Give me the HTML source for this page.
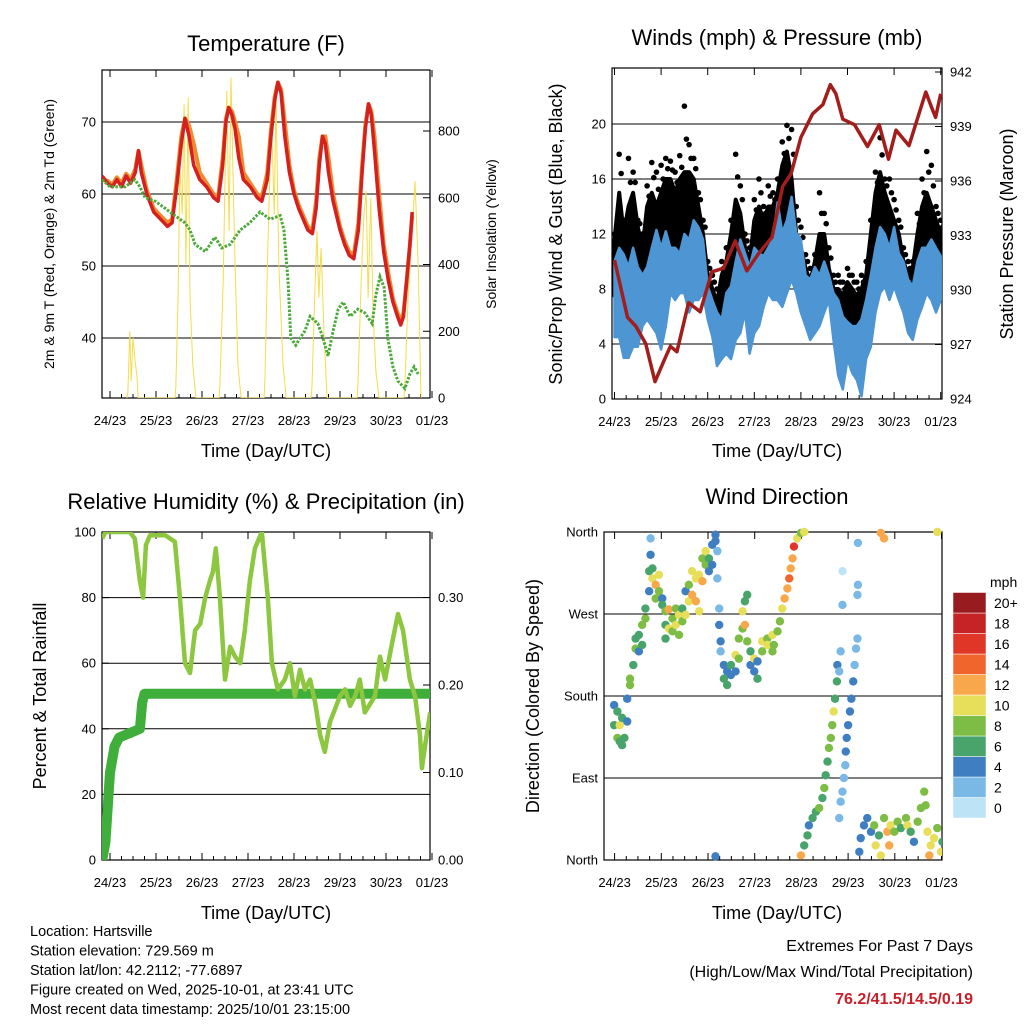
<!DOCTYPE html>
<html><head><meta charset="utf-8">
<style>
body{margin:0;background:#fff;}
svg{display:block;font-family:"Liberation Sans",Arial,sans-serif;}
</style></head>
<body>
<svg id="chart" width="1024" height="1024" viewBox="0 0 1024 1024">
<rect x="0" y="0" width="1024" height="1024" fill="#fff"/>
</svg>
<script>
// ---------- DATA ----------
const dayLabels = ["24/23","25/23","26/23","27/23","28/23","29/23","30/23","01/23"];
// Temperature panel
const tempTimes = [-0.17,-0.05,0.05,0.15,0.25,0.35,0.45,0.55,0.62,0.68,0.8,0.95,1.1,1.25,1.35,1.45,1.55,1.63,1.72,1.82,1.95,2.1,2.25,2.35,2.45,2.52,2.58,2.65,2.72,2.8,2.9,3.05,3.2,3.3,3.42,3.5,3.58,3.65,3.72,3.8,3.9,4.0,4.1,4.2,4.3,4.4,4.48,4.55,4.62,4.68,4.75,4.85,5.0,5.1,5.2,5.3,5.4,5.48,5.55,5.62,5.68,5.75,5.85,5.95,6.05,6.15,6.25,6.32,6.38,6.45,6.52,6.57];
const temp2m = [62.5,61.5,61,62,61,62.5,61.5,63,66,63,60,57.5,56.5,55.5,56,61,67,70.5,68,64,62,61,59.5,59,64,70,72,71,69,65,62,61,59.5,59,62,68,73,75.5,74,68,63,60,58,56.5,55,54.5,58,64,68,67,63,59,55,53,51.5,51,55,63,69,72.5,71,66,58,52,48,45,43,41.8,43,48,53,57.5];
const temp9m = [62,61.8,61.3,62.3,61.5,62.8,62,63.5,66,64,60.5,58,57,56,56.5,62,68,70.5,69.5,67,63,61.5,60,59.5,65,70.5,72,71.5,70,68,63,61.5,60,59.5,63,69,73.5,75.5,74.5,70,64,60.5,58.5,57,55.5,55,59,65,68,68,65,60,55.5,53.5,52,51.5,56,64,69.5,72.5,71.5,68,60,53,49,45.5,43.5,42.5,43.5,48,53,57];
const dewTimes = [-0.17,0,0.33,0.54,0.65,0.76,0.98,1.2,1.41,1.63,1.74,1.85,2.07,2.28,2.43,2.61,2.83,3.04,3.26,3.48,3.7,3.78,3.87,3.93,4.04,4.13,4.24,4.35,4.52,4.63,4.74,4.85,4.96,5.07,5.22,5.39,5.54,5.7,5.78,5.87,5.96,6.04,6.15,6.26,6.41,6.52,6.61,6.7];
const dewValues = [62,61,61,62,61,59.5,59,58,57,56,55,53,52,54,52.5,53,55,56,57.5,56.5,57,55,48,40,39,40,41,43,42,40,37.5,41,44,45,43,44,43.5,42,46,48.5,47,40,36,34,33,35,36,35];
const solarTimes = [0.37,0.39,0.43,0.46,0.50,0.54,0.59,0.61,1.41,1.43,1.48,1.52,1.57,1.61,1.65,1.70,1.74,1.80,1.87,2.37,2.39,2.46,2.50,2.54,2.59,2.63,2.67,2.72,2.78,2.85,3.35,3.37,3.43,3.48,3.52,3.57,3.61,3.67,3.76,3.83,4.37,4.39,4.46,4.50,4.54,4.59,4.65,4.72,5.37,5.39,5.46,5.52,5.57,5.61,5.67,5.72,5.78,5.85,6.39,6.41,6.48,6.57,6.63,6.70,6.76];
const solarValues = [0,20,200,50,180,120,60,0,0,30,300,700,550,880,400,900,300,100,0,0,40,350,650,920,500,960,700,400,100,0,0,60,450,700,800,550,900,400,100,0,0,30,350,500,300,450,200,0,0,40,350,550,620,300,600,250,80,0,0,40,300,500,650,400,0];
// Winds panel (0.1-day samples)
const windTimes = [0,0.1,0.2,0.3,0.4,0.5,0.6,0.7,0.8,0.9,1,1.1,1.2,1.3,1.4,1.5,1.6,1.7,1.8,1.9,2,2.1,2.2,2.3,2.4,2.5,2.6,2.7,2.8,2.9,3,3.1,3.2,3.3,3.4,3.5,3.6,3.7,3.8,3.9,4,4.1,4.2,4.3,4.4,4.5,4.6,4.7,4.8,4.9,5,5.1,5.2,5.3,5.4,5.5,5.6,5.7,5.8,5.9,6,6.1,6.2,6.3,6.4,6.5,6.6,6.7,6.8,6.9,7];
const windHigh = [10,11,10.5,9.6,11,9.6,9,9.6,11,12.3,11,12.2,11,11,10.6,12,11.6,13,12.5,11.6,8.2,7.2,6.3,5.8,7.7,8.2,10,11.6,10.6,9.6,11,10.6,10.4,11,11.6,14.3,12.1,13,14.7,12.1,11.6,9,8.7,9.6,9,10,9,7.7,7.2,6,5.6,5.3,5.3,5.8,7.2,9,11,12.5,12,11,12.5,10.6,10,8.7,8.2,10,11,11,11.6,11,10.4];
const windLow = [4.5,4.5,3,3,3.8,3.8,5.3,5.8,5.3,4.8,3.6,5.3,7.7,7.2,7.7,7.7,6.3,7.2,7.2,7.7,5.8,4.5,2.4,2.9,3.3,2.9,4.3,4.8,6.3,3.3,4.8,5.3,6.7,7.7,7.2,7.2,6.7,7.7,8.7,7.7,6.3,5.3,4.3,4.8,5.3,6.3,7.2,4.3,1.7,0.7,2.9,1.9,1.4,0.2,2.9,3.8,6.3,7.7,8.2,7.2,8.2,7.2,6.3,4.8,4.3,5.8,6.7,7.7,7.2,6.3,7.2];
const gustTop = [11.6,15,12,14,15,12.5,11,14,15,14,15,16,16,15,16,16.5,16.5,16,14,12,9,8,7,9,10,12,14.5,13.5,11,10,13,14,13,14,14,15,17,18,16,12,11,9.5,8.5,10,12,12,9.5,8,8,7.5,8.5,8,7.5,8,9,12,15,16.5,15,14,13,12,10,9,9.5,12,14,15,14,13,12];
const gustMax = [12,17.8,13,17.5,16.5,13,12,15.5,17.2,16.5,17,17.5,17.3,16.5,17.7,21.3,18.5,17.5,15,13,10,9,8,10,11,13,17.8,15.5,12,11,14.5,16,14,15.5,15,16,18.7,19.9,19.6,14,12.5,10.5,9.5,10.5,15,13.5,11,9,9,8.5,9.5,9,8.5,9,10,13,16.5,19,16,16,14.5,13,11,10,10,13.5,16,18,17,14,13];
const presTimes = [0,0.28,0.46,0.67,0.87,1.06,1.2,1.34,1.59,1.84,2.09,2.34,2.59,2.84,3.09,3.38,3.61,3.79,4.0,4.25,4.47,4.63,4.75,4.9,5.15,5.43,5.68,5.88,6.04,6.32,6.68,6.82,6.89,7.0];
const presValues = [931.65,928.5,928,927.05,924.95,926.1,926.9,926.6,929.3,928.8,931.0,931.2,932.7,931.05,932.0,932.9,935.7,936.4,938.4,939.7,940.2,941.3,940.8,939.4,939.1,937.9,939.1,937.2,938.8,937.95,940.9,939.95,939.5,940.8];
// RH panel
const rhTimes = [-0.17,-0.1,0.43,0.54,0.65,0.72,0.78,0.87,1.2,1.41,1.52,1.63,1.74,1.85,1.96,2.07,2.17,2.24,2.3,2.39,2.5,2.61,2.72,2.83,2.93,3.04,3.15,3.3,3.43,3.52,3.65,3.8,3.91,4.02,4.13,4.24,4.35,4.46,4.57,4.67,4.78,5.0,5.11,5.22,5.33,5.43,5.54,5.76,5.87,5.98,6.13,6.26,6.37,6.52,6.63,6.74,6.78,6.85,6.96];
const rhValues = [98,100,100,98,85,80,96,99,99,97,80,60,57,70,72,80,85,88,95,80,55,65,62,60,70,85,95,100,80,60,52,55,60,50,58,52,55,48,38,33,42,50,52,47,50,55,45,50,62,55,66,75,70,55,50,38,28,35,45];
const precipTimes = [-0.17,-0.1,-0.05,0.0,0.1,0.2,0.43,0.65,0.7,0.75,6.96];
const precipValues = [0,0.02,0.06,0.1,0.13,0.14,0.145,0.15,0.18,0.19,0.19];
// Wind direction panel
const dirTimes = [-0.01,-0.01,0.06,0.06,0.11,0.11,0.16,0.16,0.21,0.27,0.27,0.33,0.33,0.4,0.45,0.45,0.52,0.52,0.59,0.59,0.66,0.66,0.74,0.74,0.77,0.77,0.81,0.81,0.88,0.88,0.95,0.95,1.02,1.02,1.09,1.09,1.09,1.16,1.16,1.24,1.24,1.31,1.31,1.38,1.38,1.45,1.45,1.52,1.52,1.59,1.59,1.66,1.66,1.74,1.74,1.81,1.81,1.88,1.88,1.95,1.95,2.02,2.02,2.09,2.09,2.16,2.16,2.2,2.2,2.24,2.24,2.27,2.27,2.34,2.34,2.41,2.41,2.49,2.49,2.59,2.59,2.66,2.66,2.74,2.74,2.79,2.79,2.84,2.84,2.91,2.91,2.99,2.99,3.06,3.06,3.16,3.16,3.27,3.27,3.38,3.38,2.16,
3.41,3.49,3.54,3.59,3.64,3.7,3.74,3.77,3.81,3.84,3.91,3.99,4.06,
3.99,4.06,4.13,4.16,4.24,4.31,4.38,4.45,4.49,4.52,4.56,4.59,4.63,4.66,4.69,4.72,4.76,4.77,4.81,4.84,4.88,4.88,
4.81,4.84,4.88,4.91,4.94,4.95,4.97,5.0,5.04,5.07,5.11,5.14,5.17,5.2,5.2,5.21,5.21,
5.24,5.27,5.34,5.41,5.49,5.56,5.59,5.66,5.7,5.77,5.84,5.88,5.91,5.99,6.06,6.13,6.24,6.27,6.34,6.41,6.49,6.56,6.63,6.66,6.7,6.74,6.77,6.84,6.91,6.99,7.02,
5.7,5.77,6.91];
const dirValues = [170,148,163,134,148,130,156,126,134,152,177,192,199,214,232,243,229,247,236,258,265,276,295,317,335,353,309,320,302,287,295,313,287,280,273,258,243,275,254,265,251,258,276,247,269,276,262,269,295,284,302,291,317,284,309,273,313,306,331,339,324,331,317,324,346,357,350,339,309,276,258,240,229,214,199,192,207,203,214,225,207,221,243,273,254,258,284,291,240,229,214,207,221,199,218,229,240,243,236,247,229,4,
236,251,262,276,287,298,309,320,331,344,353,359,360,
5,16,27,38,46,53,57,68,79,93,108,123,134,148,163,177,196,214,207,229,317,280,
46,64,75,90,104,119,134,148,163,177,196,214,232,243,291,302,348,
9,24,38,46,31,38,16,27,5,46,31,16,38,31,42,35,46,38,31,20,42,57,75,60,31,5,16,24,35,9,20,
359,353,360];
const dirSpeeds = [4,6,6,8,10,6,6,6,6,4,4,8,8,6,8,6,4,6,6,8,8,6,4,6,4,2,10,6,12,8,8,10,4,6,8,6,6,12,10,8,8,10,8,8,10,6,8,10,4,10,8,12,10,12,10,10,10,12,8,10,8,6,4,4,4,4,4,2,2,2,4,4,2,4,6,6,4,4,6,10,4,8,8,10,8,12,6,6,8,6,4,4,10,6,4,8,10,8,10,10,8,4,
8,8,8,10,12,12,14,12,12,16,10,8,10,
12,6,6,4,6,6,8,6,8,6,6,8,8,8,10,6,6,4,2,2,1,2,
2,2,2,2,2,4,4,4,4,4,4,2,2,2,2,2,2,
4,4,4,4,4,8,10,6,10,8,12,12,10,8,8,6,8,10,6,4,8,8,8,8,10,12,10,10,8,10,6,
12,12,10];
const speedLabels = ["0","2","4","6","8","10","12","14","16","18","20+"];
const speedColors = ["#bde3f7","#7ab8e6","#3f7fc1","#48a46a","#7dbd45","#e7de5a","#f8a84b","#f0652b","#df3628","#c62327","#981c1f"];

// ---------- HELPERS ----------
const NS="http://www.w3.org/2000/svg";
const svg=document.getElementById('chart');
function mk(tag,attrs,parent){const e=document.createElementNS(NS,tag);for(const k in attrs)e.setAttribute(k,attrs[k]);(parent||svg).appendChild(e);return e;}
function txt(s,x,y,size,anchor,rot,extra){const a={x:x,y:y,'font-size':size,'text-anchor':anchor||'middle',fill:'#000'};if(rot)a.transform='rotate('+rot+' '+x+' '+y+')';if(extra)for(const k in extra)a[k]=extra[k];const e=mk('text',a);e.textContent=s;return e;}
function lin(d0,d1,r0,r1){return v=>r0+(v-d0)/(d1-d0)*(r1-r0);}
function pathD(xs,ys,fx,fy){return xs.map((t,i)=>(i?'L':'M')+fx(t).toFixed(1)+' '+fy(ys[i]).toFixed(1)).join(' ');}
function bandPts(xs,hi,lo,fx,fy){const a=xs.map((t,i)=>fx(t).toFixed(1)+','+fy(hi[i]).toFixed(1));for(let i=xs.length-1;i>=0;i--)a.push(fx(xs[i]).toFixed(1)+','+fy(lo[i]).toFixed(1));return a.join(' ');}

function frame(x0,y0,x1,y1,yTicks,fyL,yLabFmt,rTicks,fyR,rFmt,fx,nameP,grid){
  if(grid){yTicks.forEach(v=>{const g=mk('line',{x1:x0,x2:x1,y1:fyL(v),y2:fyL(v),stroke:'#000','stroke-width':1});
    });}
  const r=mk('rect',{x:x0,y:y0,width:x1-x0,height:y1-y0,fill:'none',stroke:'#000','stroke-width':1.2});
  
  yTicks.forEach(v=>{const y=fyL(v);mk('line',{x1:x0,x2:x0+7,y1:y,y2:y,stroke:'#000'});
    const t=txt(yLabFmt(v),x0-6,y+4.5,13,'end');});
  if(rTicks)rTicks.forEach(v=>{const y=fyR(v);mk('line',{x1:x1-7,x2:x1,y1:y,y2:y,stroke:'#000'});
    const t=txt(rFmt(v),x1+8,y+4.5,13,'start');});
  dayLabels.forEach((l,i)=>{const x=fx(i);mk('line',{x1:x,x2:x,y1:y1,y2:y1-7,stroke:'#000'});mk('line',{x1:x,x2:x,y1:y0,y2:y0+7,stroke:'#000'});
    for(let k=1;k<4;k++){const xm=fx(i+k/4);if(xm<x1)mk('line',{x1:xm,x2:xm,y1:y1,y2:y1-4,stroke:'#000'});}
    const t=txt(l,x,y1+27,13,'middle');});
}

// ---------- PANEL 1: Temperature ----------
{
const x0=102,x1=430,y0=70,y1=398;
const fx=lin(0,1,110,156);const fy=lin(40,70,338,122);const fs=lin(0,800,398,131);
const cp=mk('clipPath',{id:'c1'});mk('rect',{x:x0,y:y0,width:x1-x0,height:y1-y0},cp);
frame(x0,y0,x1,y1,[40,50,60,70],fy,v=>v,[0,200,400,600,800],fs,v=>v,fx,'temperature',true);
const g=mk('g',{'clip-path':'url(#c1)'});
const s=mk('path',{d:pathD(solarTimes,solarValues,fx,fs),fill:'none',stroke:'#f5dc4a','stroke-width':1},g);

const o=mk('path',{d:pathD(tempTimes,temp9m,fx,fy),fill:'none',stroke:'#f08a2c','stroke-width':4,'stroke-linejoin':'round'},g);

const r=mk('path',{d:pathD(tempTimes,temp2m,fx,fy),fill:'none',stroke:'#d42020','stroke-width':3.5,'stroke-linejoin':'round'},g);

const d=mk('path',{d:pathD(dewTimes,dewValues,fx,fy),fill:'none',stroke:'#4caa3a','stroke-width':3,'stroke-dasharray':'2.5 1.5'},g);

let t=txt('Temperature (F)',266,51,22);
t=txt('Time (Day/UTC)',266,457,18);
t=txt('2m & 9m T (Red, Orange) & 2m Td (Green)',54,234,14,'middle',-90);
t=txt('Solar Insolation (Yellow)',496,234,14,'middle',-90);
}

// ---------- PANEL 2: Winds ----------
{
const x0=612,x1=942,y0=68,y1=399;
const fx=lin(0,1,614.5,661.1);const fy=lin(0,20,399,124);const fp=lin(924,942,399,72);
const cp=mk('clipPath',{id:'c2'});mk('rect',{x:x0,y:y0,width:x1-x0,height:y1-y0},cp);
frame(x0,y0,x1,y1,[0,4,8,12,16,20],fy,v=>v,[924,927,930,933,936,939,942],fp,v=>v,fx,'winds',true);
const g=mk('g',{'clip-path':'url(#c2)'});
const lowBlack=windHigh.map((v,i)=>Math.min(v,windLow[i]+3));
const gb=mk('polygon',{points:bandPts(windTimes,gustTop,lowBlack,fx,fy),fill:'#000',stroke:'#000','stroke-width':4,'stroke-linejoin':'round'},g);

windTimes.forEach((t,i)=>{
  const c=mk('circle',{cx:fx(t),cy:fy(gustMax[i]),r:2.8,fill:'#000'},g);
  
  const c2=mk('circle',{cx:fx(t)+2,cy:fy((gustMax[i]+gustTop[i])/2),r:2.8,fill:'#000'},g);
  });
const wb=mk('polygon',{points:bandPts(windTimes,windHigh,windLow,fx,fy),fill:'#4d95d3',stroke:'#4d95d3','stroke-width':2.5,'stroke-linejoin':'round'},g);

const p=mk('path',{d:pathD(presTimes,presValues,fx,fp),fill:'none',stroke:'#a31d1d','stroke-width':3.5,'stroke-linejoin':'round'},g);

let t=txt('Winds (mph) & Pressure (mb)',777,45,22);
t=txt('Time (Day/UTC)',777,457,18);
t=txt('Sonic/Prop Wind & Gust (Blue, Black)',562,234,18,'middle',-90);
t=txt('Station Pressure (Maroon)',1013,234,18,'middle',-90);
}

// ---------- PANEL 3: RH & Precip ----------
{
const x0=102,x1=430,y0=532,y1=860;
const fx=lin(0,1,110,156);const fy=lin(0,100,860,532);const fr=lin(0,0.1,860,772.5);
const cp=mk('clipPath',{id:'c3'});mk('rect',{x:x0,y:y0,width:x1-x0,height:y1-y0},cp);
frame(x0,y0,x1,y1,[0,20,40,60,80,100],fy,v=>v,[0,0.1,0.2,0.3],fr,v=>v.toFixed(2),fx,'humidity',true);
const g=mk('g',{'clip-path':'url(#c3)'});
const pr=mk('path',{d:pathD(precipTimes,precipValues,fx,fr),fill:'none',stroke:'#3fae3a','stroke-width':10,'stroke-linejoin':'round','stroke-linecap':'round'},g);

const rh=mk('path',{d:pathD(rhTimes,rhValues,fx,fy),fill:'none',stroke:'#8dc63f','stroke-width':4.5,'stroke-linejoin':'round'},g);

let t=txt('Relative Humidity (%) & Precipitation (in)',266,509,22);
t=txt('Time (Day/UTC)',266,919,18);
t=txt('Percent & Total Rainfall',46,696,18,'middle',-90);
}

// ---------- PANEL 4: Wind Direction ----------
{
const x0=604,x1=942,y0=532,y1=860;
const fx=lin(0,1,614.6,661.3);const fy=lin(0,360,860,532);
const cp=mk('clipPath',{id:'c4'});mk('rect',{x:x0,y:y0-5,width:x1-x0,height:y1-y0+10},cp);
const names=['North','East','South','West','North'];
frame(x0,y0,x1,y1,[0,90,180,270,360],fy,v=>names[v/90],null,null,null,fx,'direction',true);
const g=mk('g',{'clip-path':'url(#c4)'});
dirTimes.forEach((t,i)=>{const ci=Math.min(10,Math.floor(dirSpeeds[i]/2));
  const c=mk('circle',{cx:fx(t),cy:fy(dirValues[i]),r:4.2,fill:speedColors[ci]},g);
  });
let t=txt('Wind Direction',777,504,22);
t=txt('Time (Day/UTC)',777,919,18);
t=txt('Direction (Colored By Speed)',539,696,18,'middle',-90);
t=txt('mph',990,587,14,'start');
const cb0=818,ch=20.5;
speedColors.forEach((c,i)=>{const y=cb0-(i+1)*ch;
  const r=mk('rect',{x:953,y:y,width:33,height:ch,fill:c,stroke:'#fff','stroke-width':0.5});
  
  const l=txt(speedLabels[i],994,y+ch/2+5,14,'start');});
}

// ---------- FOOTER ----------
{
const lines=['Location: Hartsville','Station elevation: 729.569 m','Station lat/lon: 42.2112; -77.6897','Figure created on Wed, 2025-10-01, at 23:41 UTC','Most recent data timestamp: 2025/10/01 23:15:00'];
lines.forEach((s,i)=>{const t=txt(s,30,936+i*19.5,14.5,'start');});
let t=txt('Extremes For Past 7 Days',973,951,16,'end');
t=txt('(High/Low/Max Wind/Total Precipitation)',973,977,16,'end');
t=txt('76.2/41.5/14.5/0.19',973,1004,16,'end',null,{fill:'#c8202a','font-weight':'bold'});
}
</script>
</body></html>
